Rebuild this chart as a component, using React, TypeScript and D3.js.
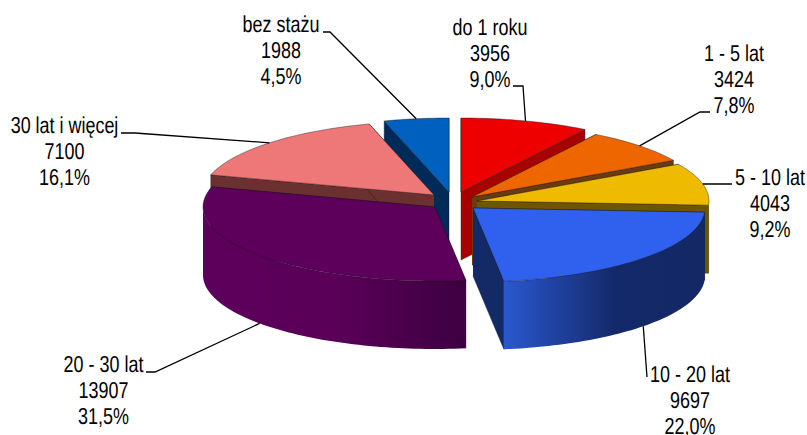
import React from "react";
import * as d3 from "d3";

const categories = ["do 1 roku", "1 - 5 lat", "5 - 10 lat", "10 - 20 lat", "20 - 30 lat", "30 lat i więcej", "bez stażu"];
const values = [3956, 3424, 4043, 9697, 13907, 7100, 1988];
const percentLabels = ["9,0%", "7,8%", "9,2%", "22,0%", "31,5%", "16,1%", "4,5%"];
const topColors = ["#ee0000", "#ee6600", "#eebb00", "#2f60ee", "#5c005c", "#ee7777", "#0060c0"];
const sideColors = ["#a80000", "#6b3a12", "#6e5500", "#132a66", "#420042", "#6b3030", "#002a58"];

const W = 807, H = 435, RX = 232, RY = 74, DEPTH = 68;
const centers: [number, number][] = [[461, 192], [472, 197], [477, 201], [473, 208], [435, 207], [434, 195], [449, 192]];
const drawOrder = [6, 0, 1, 2, 5, 4, 3];
const labelPos: [number, number][] = [[490, 35], [734, 61], [770, 184.5], [690, 382], [103.5, 372], [64.5, 133], [281, 32]];
const elbows: [number, number][][] = [
  [[523, 86], [513, 86]], [[700, 112], [710, 112]], [[712, 184], [732, 184]],
  [[647, 377]], [[155, 372], [146, 372]], [[135, 133], [121, 133]], [[330, 32], [323, 32]],
];
const wallGradients: Record<number, [string, string][]> = {
  3: [["0%", "#2a58d0"], ["55%", "#14296a"], ["100%", "#132864"]],
  4: [["0%", "#5c005c"], ["50%", "#5a0058"], ["100%", "#3d0040"]],
};

const arcs = d3.pie<number>().sort(null)(values);
const line = d3.line();
const pt = (c: [number, number], a: number, dy = 0): [number, number] => [
  c[0] + RX * Math.sin(a), c[1] - RY * Math.cos(a) + dy,
];
const arcPts = (c: [number, number], a0: number, a1: number, dy = 0) => {
  const n = Math.max(2, Math.ceil((a1 - a0) * 40));
  return d3.range(n + 1).map(i => pt(c, a0 + ((a1 - a0) * i) / n, dy));
};

export default function App() {
  const stroke = { stroke: "#1a1a1a", strokeWidth: 0.6, strokeOpacity: 0.7, strokeLinejoin: "round" as const };
  return (
    <svg width={W} height={H} style={{ position: "absolute", left: 0, top: 0, background: "#fff" }}>
      <defs>
        {Object.entries(wallGradients).map(([k, stops]) => {
          const i = +k;
          const xs = arcPts(centers[i], Math.max(arcs[i].startAngle, Math.PI / 2), Math.min(arcs[i].endAngle, 1.5 * Math.PI)).map(p => p[0]);
          return (
            <linearGradient key={k} id={`wall${k}`} gradientUnits="userSpaceOnUse" x1={d3.min(xs)} x2={d3.max(xs)} y1={0} y2={0}>
              {stops.map(s => <stop key={s[0]} offset={s[0]} stopColor={s[1]} />)}
            </linearGradient>
          );
        })}
      </defs>
      {drawOrder.map(i => {
        const c = centers[i];
        const { startAngle: a0, endAngle: a1 } = arcs[i];
        const face = (a: number) => line([c, pt(c, a), pt(c, a, DEPTH), [c[0], c[1] + DEPTH]])!;
        const w0 = Math.max(a0, Math.PI / 2), w1 = Math.min(a1, 1.5 * Math.PI);
        return (
          <g key={i}>
            <path d={face(a0)} fill={sideColors[i]} {...stroke} />
            <path d={face(a1)} fill={sideColors[i]} {...stroke} />
            {w1 > w0 && (
              <path
                d={line([...arcPts(c, w0, w1), ...arcPts(c, w0, w1, DEPTH).reverse()])! + "Z"}
                fill={wallGradients[i] ? `url(#wall${i})` : sideColors[i]}
                stroke="none"
              />
            )}
            <path d={line([c, ...arcPts(c, a0, a1)])! + "Z"} fill={topColors[i]} {...stroke} />
          </g>
        );
      })}
      {arcs.map((a, i) => {
        const mid = (a.startAngle + a.endAngle) / 2;
        return (
          <path key={i} d={line([pt(centers[i], mid, mid > Math.PI / 2 && mid < 1.5 * Math.PI ? DEPTH : 0), ...elbows[i]])!}
            fill="none" stroke="#000" strokeWidth={1.3} />
        );
      })}
      <g fontFamily="'Liberation Sans', Arial, sans-serif" fontSize={23} fill="#000" textAnchor="middle" textRendering="geometricPrecision">
        {categories.map((name, i) => (
          <text key={name} transform={`translate(${labelPos[i][0]},${labelPos[i][1]}) scale(0.78,1)`}>
            <tspan x={0} y={0}>{name}</tspan>
            <tspan x={0} y={26}>{values[i]}</tspan>
            <tspan x={0} y={52}>{percentLabels[i]}</tspan>
          </text>
        ))}
      </g>
    </svg>
  );
}
